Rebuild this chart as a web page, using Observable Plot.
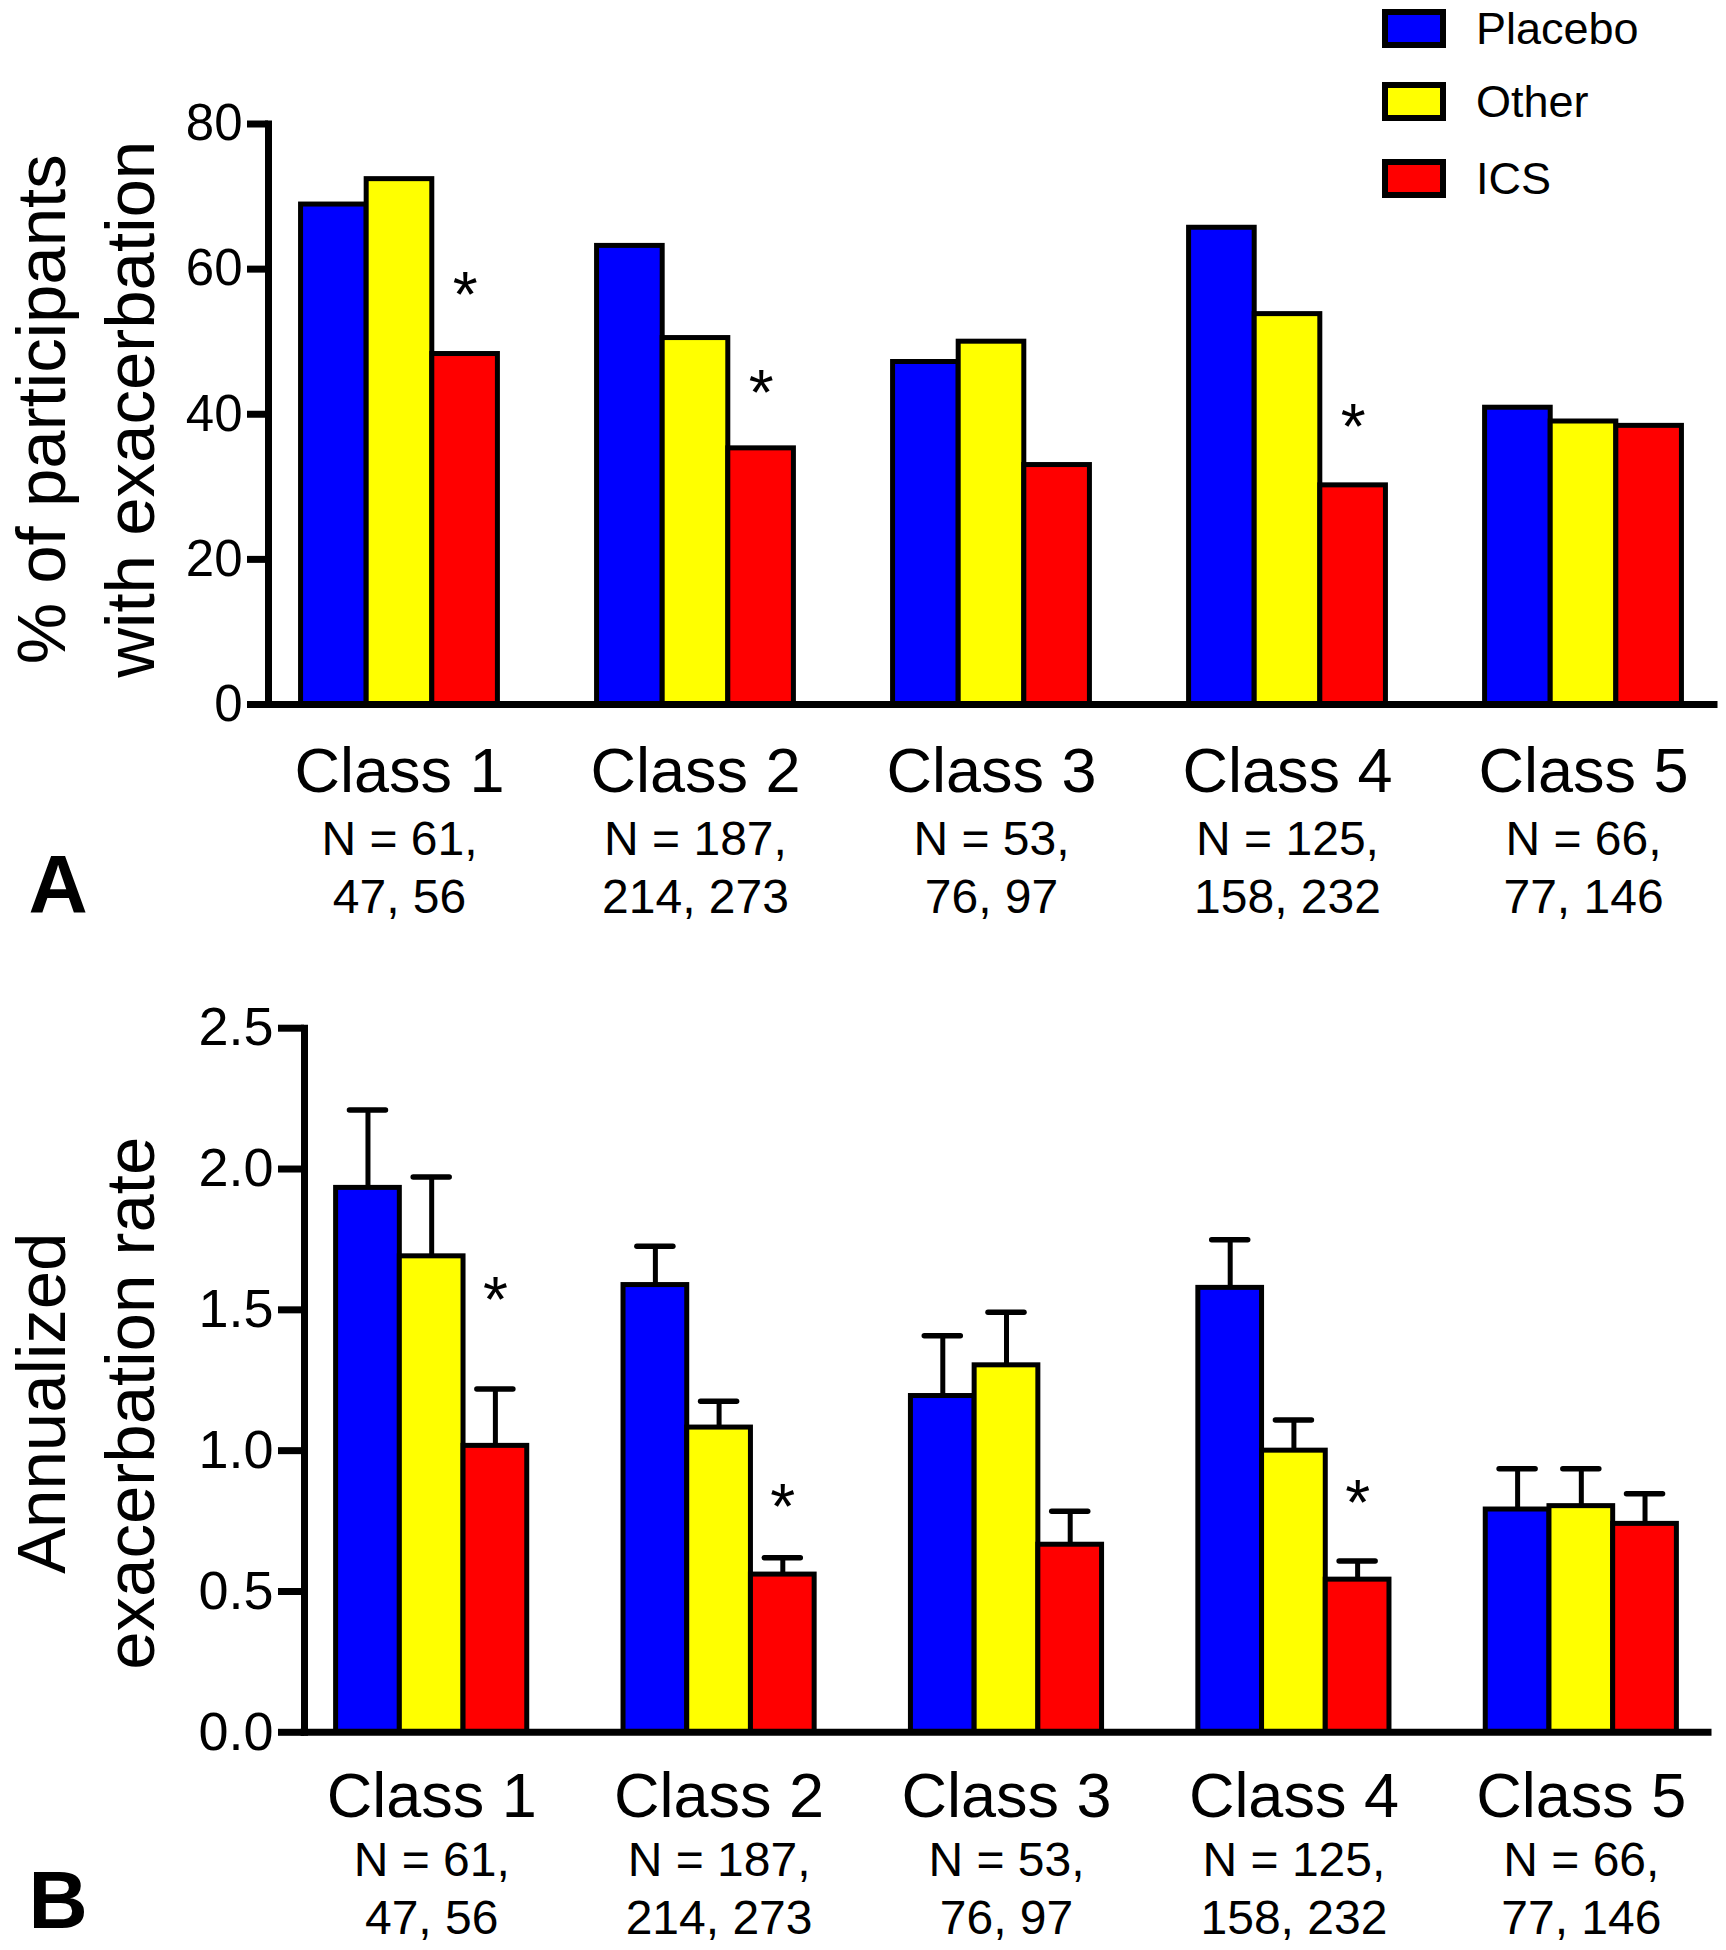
<!DOCTYPE html>
<html>
<head>
<meta charset="utf-8">
<script src="https://cdn.jsdelivr.net/npm/d3@7"></script>
<script src="https://cdn.jsdelivr.net/npm/@observablehq/plot@0.6"></script>
<style>
html, body { margin: 0; padding: 0; background: #fff; }
#root { position: relative; width: 1726px; height: 1950px; overflow: hidden; font-family: "Liberation Sans", Arial, sans-serif; color: #000; }
#root svg { overflow: visible; display: block; }
#chartA { position: absolute; left: 0; top: 0; }
#chartB { position: absolute; left: 0; top: 960px; }
#legend { position: absolute; left: 1382px; top: 0; }
.item { position: absolute; left: 0; display: flex; align-items: center; height: 39px; white-space: nowrap; }
.swatch { box-sizing: border-box; width: 64px; height: 39px; border: 6px solid #000; }
.lab { margin-left: 30px; font-size: 45px; line-height: 1; }
</style>
</head>
<body>
<div id="root">
  <div id="chartA"></div>
  <div id="chartB"></div>
  <div id="legend"></div>
</div>
<script>
// ---- data ----
const classes = ["Class 1", "Class 2", "Class 3", "Class 4", "Class 5"];
const series = ["Placebo", "Other", "ICS"];
const colors = ["#0000ff", "#ffff00", "#ff0000"];

// sample sizes per class (Placebo, Other, ICS)
const nPlacebo = [61, 187, 53, 125, 66];
const nOther = [47, 214, 76, 158, 77];
const nICS = [56, 273, 97, 232, 146];

// Panel A: % of participants with exacerbation
const pctPlacebo = [68.9, 63.2, 47.2, 65.7, 40.9];
const pctOther = [72.4, 50.5, 50.0, 53.8, 39.0];
const pctICS = [48.3, 35.3, 33.0, 30.2, 38.4];
const pctStar = [58.4, 44.8, null, 40.2, null]; // level of the "*" over ICS

// Panel B: annualized exacerbation rate (mean and upper error bar)
const ratePlacebo = [1.933, 1.588, 1.194, 1.578, 0.791];
const rateOther = [1.690, 1.082, 1.303, 1.000, 0.803];
const rateICS = [1.017, 0.560, 0.666, 0.542, 0.740];
const rateUpPlacebo = [2.210, 1.726, 1.408, 1.749, 0.936];
const rateUpOther = [1.972, 1.175, 1.491, 1.109, 0.936];
const rateUpICS = [1.219, 0.620, 0.785, 0.608, 0.847];
const rateStar = [1.583, 0.849, null, 0.863, null];

const ticksA = [0, 20, 40, 60, 80];
const ticksB = [0, 0.5, 1.0, 1.5, 2.0, 2.5];

// ---- chart builder ----
const W = 1726;
const FONT = "Liberation Sans, Arial, sans-serif";

function panel(o) {
  const pi = 0.335, po = 0.11;
  const bw = d3.scaleBand().domain(classes).range([o.mL, W - o.mR])
    .paddingInner(pi).paddingOuter(po).align(0.5).bandwidth();
  const bar = bw / 3;
  const cap = 18;
  const rows = series.map((s, i) => classes.map((c, j) => ({
    cls: c, series: s, value: o.values[i][j], upper: o.upper ? o.upper[i][j] : null
  })));
  const marks = [];
  // error bars
  if (o.upper) {
    series.forEach((s, i) => {
      marks.push(Plot.ruleX(rows[i], {x: "cls", y1: "value", y2: "upper", dx: (i - 1) * bar, stroke: "#000", strokeWidth: 5}));
      marks.push(Plot.tickY(rows[i], {x: "cls", y: "upper", insetLeft: (i + 0.5) * bar - cap, insetRight: bw - (i + 0.5) * bar - cap, stroke: "#000", strokeWidth: 5.5, strokeLinecap: "round"}));
    });
  }
  // bars
  series.forEach((s, i) => {
    marks.push(Plot.barY(rows[i], {x: "cls", y: "value", fill: colors[i], stroke: "#000", strokeWidth: 5, insetLeft: i * bar, insetRight: (2 - i) * bar}));
  });
  // significance stars over ICS
  const starRows = classes.map((c, j) => ({cls: c, star: o.stars[j]})).filter(d => d.star != null);
  marks.push(Plot.text(starRows, {x: "cls", y: "star", text: () => "*", dx: bar, dy: 36, fontSize: 64, lineAnchor: "bottom", fill: "#000"}));
  // axes
  marks.push(Plot.ruleY([0], {stroke: "#000", strokeWidth: 7, strokeLinecap: "square"}));
  marks.push(Plot.frame({anchor: "left", stroke: "#000", strokeWidth: 7, strokeLinecap: "square"}));
  marks.push(Plot.axisY({ticks: o.ticks, tickFormat: o.fmt, tickSize: o.tickSize, tickPadding: 5, fontSize: o.tickFont, strokeWidth: 7, label: null, fill: "#000", stroke: "#000"}));
  // category labels
  marks.push(Plot.text(classes, {x: d => d, frameAnchor: "bottom", lineAnchor: "bottom", dy: o.lbl[0], fontSize: 63, fill: "#000"}));
  const nRows = classes.map((c, j) => ({cls: c, t: `N = ${nPlacebo[j]},\n${nOther[j]}, ${nICS[j]}`}));
  marks.push(Plot.text(nRows, {x: "cls", text: "t", frameAnchor: "bottom", lineAnchor: "bottom", dy: o.lbl[1], fontSize: 48, lineHeight: 58 / 48, fill: "#000"}));
  // y title (two lines, rotated)
  marks.push(Plot.text([o.title], {frameAnchor: "left", rotate: -90, fontSize: 69, lineHeight: 89 / 69, lineAnchor: "bottom", textAnchor: "middle", dx: 153 - o.mL, dy: o.titleDy, fill: "#000"}));
  // panel letter
  marks.push(Plot.text([o.letter], {frameAnchor: "bottom-left", textAnchor: "start", lineAnchor: "bottom", dx: 28 - o.mL, dy: o.letterDy, fontSize: 82, fontWeight: "bold", fill: "#000"}));

  return Plot.plot({
    width: W, height: o.height,
    marginTop: o.mT, marginBottom: o.mB, marginLeft: o.mL, marginRight: o.mR,
    style: {fontFamily: FONT, background: "transparent", color: "#000"},
    x: {type: "band", domain: classes, paddingInner: pi, paddingOuter: po, align: 0.5, round: false, axis: null},
    y: {domain: o.yDomain},
    marks
  });
}

const chartA = panel({
  values: [pctPlacebo, pctOther, pctICS], upper: null, stars: pctStar,
  yDomain: [0, 80], ticks: ticksA, fmt: d => String(d), tickSize: 21, tickFont: 51,
  height: 960, mT: 123.5, mB: 256, mL: 268, mR: 12,
  lbl: [87, 208],
  title: "% of participants\nwith exacerbation", titleDy: -5,
  letter: "A", letterDy: 207
});
document.getElementById("chartA").appendChild(chartA);

const chartB = panel({
  values: [ratePlacebo, rateOther, rateICS], upper: [rateUpPlacebo, rateUpOther, rateUpICS], stars: rateStar,
  yDomain: [0, 2.5], ticks: ticksB, fmt: d3.format(".1f"), tickSize: 26, tickFont: 54,
  height: 990, mT: 67.7, mB: 218.2, mL: 304, mR: 18,
  lbl: [85, 202],
  title: "Annualized\nexacerbation rate", titleDy: 23,
  letter: "B", letterDy: 196
});
document.getElementById("chartB").appendChild(chartB);

// legend
const legendTops = [9, 82, 159];
const legend = document.getElementById("legend");
series.forEach((s, i) => {
  const item = document.createElement("div");
  item.className = "item";
  item.style.top = legendTops[i] + "px";
  const sw = document.createElement("div");
  sw.className = "swatch";
  sw.style.background = colors[i];
  const lab = document.createElement("span");
  lab.className = "lab";
  lab.textContent = s;
  item.appendChild(sw);
  item.appendChild(lab);
  legend.appendChild(item);
});
</script>
</body>
</html>
